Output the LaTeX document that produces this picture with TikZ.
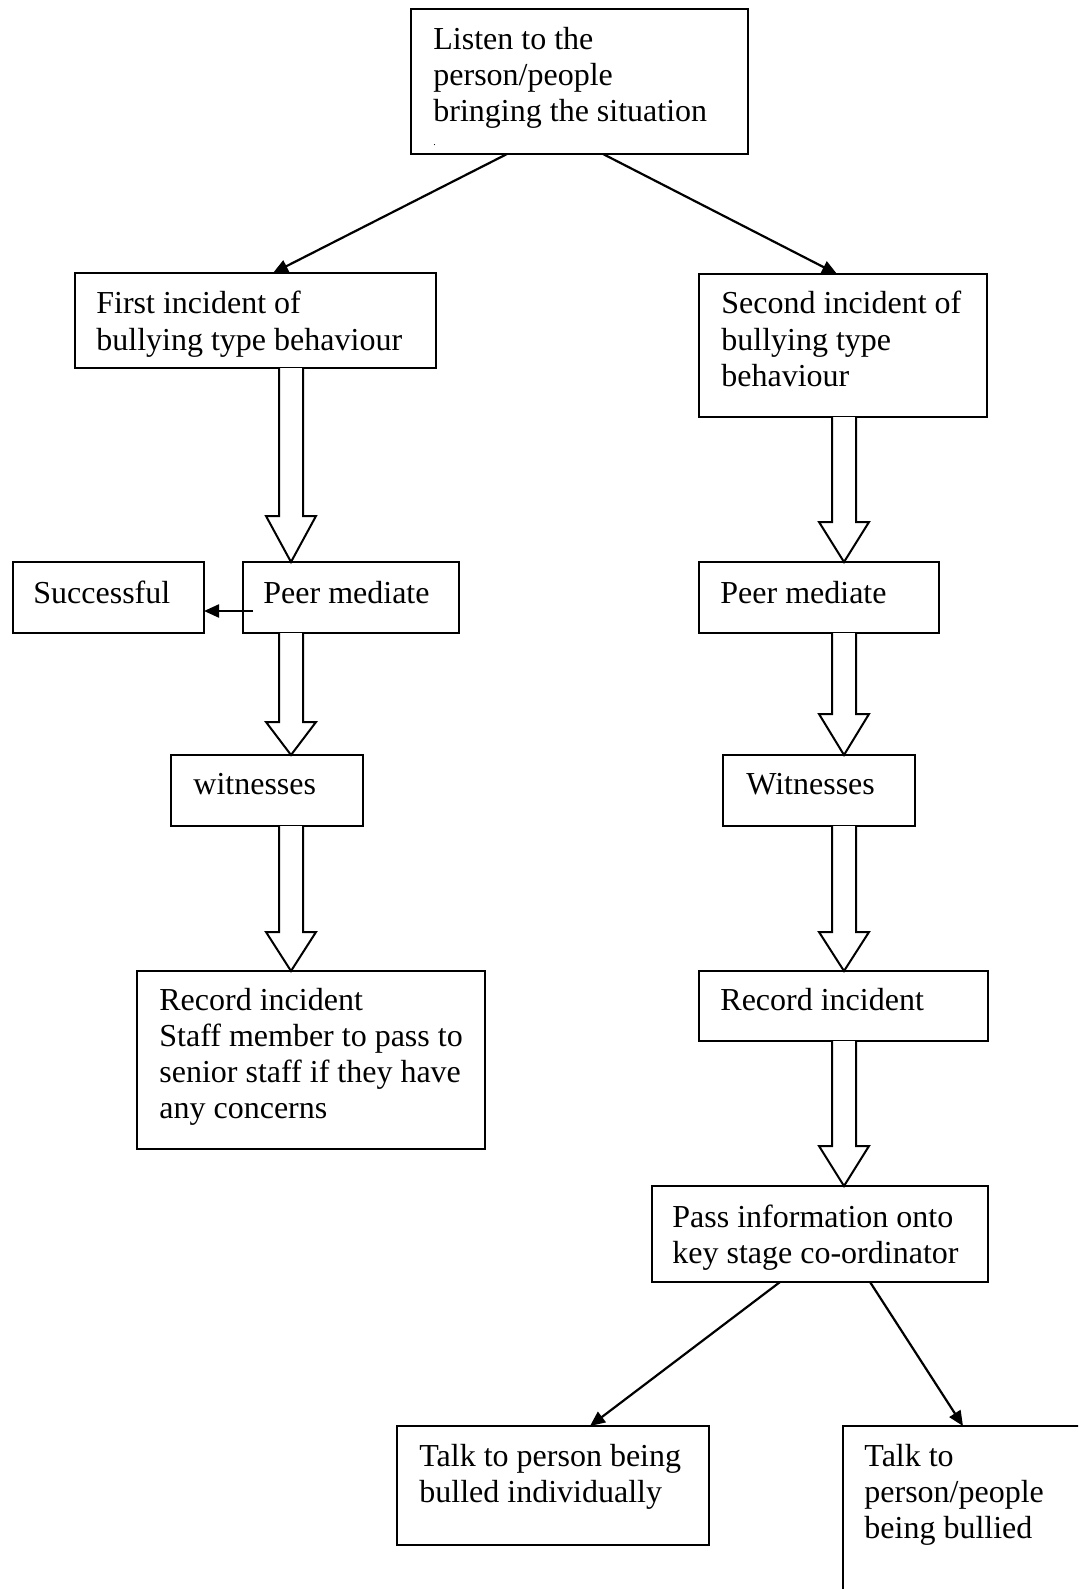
\documentclass[tikz,border=0pt]{standalone}
\usepackage{fontspec}
\setmainfont{Liberation Serif}
\usetikzlibrary{arrows.meta,fit,calc}
\tikzset{
  box/.style={draw, line width=1pt, inner sep=0pt, outer sep=0pt, rectangle},
  txt/.style={inner sep=0pt, anchor=base west, font=\fontsize{16pt}{18pt}\selectfont},
  conn/.style={line width=1.1pt, -{Triangle[length=7.5pt,width=6.5pt]}},
  blk/.style={line width=1pt, fill=white, line join=miter},
}
% #1 from node, #2 to node, #3 x of axis, #4 y where the head starts
\newcommand{\blockarr}[4]{%
  \draw[blk] ($(#1.south -| #3,0)+(-12,0)$) -- ($(#3,#4)+(-12,0)$) -- ($(#3,#4)+(-25,0)$)
    -- (#2.north -| #3,0) -- ($(#3,#4)+(25,0)$) -- ($(#3,#4)+(12,0)$) -- ($(#1.south -| #3,0)+(12,0)$);}
\begin{document}
\begin{tikzpicture}[x=0.5pt,y=-0.5pt]
\clip (0,0) rectangle (1078,1589);
\fill[white] (0,0) rectangle (1078,1589);

% boxes
\node[box, fit={(411,9) (748,154)}] (listen) {};
\node[box, fit={(75,273) (436,368)}] (first) {};
\node[box, fit={(699,274) (987,417)}] (second) {};
\node[box, fit={(13,562) (204,633)}] (succ) {};
\node[box, fit={(243,562) (459,633)}] (peerL) {};
\node[box, fit={(699,562) (939,633)}] (peerR) {};
\node[box, fit={(171,755) (363,826)}] (witL) {};
\node[box, fit={(723,755) (915,826)}] (witR) {};
\node[box, fit={(137,971) (485,1149)}] (recL) {};
\node[box, fit={(699,971) (988,1041)}] (recR) {};
\node[box, fit={(652,1186) (988,1282)}] (pass) {};
\node[box, fit={(397,1426) (709,1545)}] (talkL) {};
\node[box, fit={(843,1426) (1120,1640)}] (talkR) {};

% texts
\node[txt] (tlisten) at (433,50) {\parbox[t]{300pt}{Listen to the\\person/people\\bringing the situation}};
\node[inner sep=0pt, font=\fontsize{5pt}{6pt}\selectfont, anchor=base west] (tdot) at (433,146) {.};
\node[txt] (tfirst) at (96,314) {\parbox[t]{300pt}{First incident of\\bullying type behaviour}};
\node[txt] (tsecond) at (721,314) {\parbox[t]{300pt}{Second incident of\\bullying type\\behaviour}};
\node[txt] (tsucc) at (33,603) {Successful};
\node[txt] (tpeerL) at (263,603) {Peer mediate};
\node[txt] (tpeerR) at (720,603) {Peer mediate};
\node[txt] (twitL) at (193,794) {witnesses};
\node[txt] (twitR) at (746,794) {Witnesses};
\node[txt] (trecL) at (159,1010) {\parbox[t]{300pt}{Record incident\\Staff member to pass to\\senior staff if they have\\any concerns}};
\node[txt] (trecR) at (720,1010) {Record incident};
\node[txt] (tpass) at (672,1227) {\parbox[t]{300pt}{Pass information onto\\key stage co-ordinator}};
\node[txt] (ttalkL) at (419,1466) {\parbox[t]{300pt}{Talk to person being\\bulled individually}};
\node[txt] (ttalkR) at (864,1466) {\parbox[t]{300pt}{Talk to\\person/people\\being bullied}};

% block arrows
\blockarr{first}{peerL}{291}{516}
\blockarr{peerL}{witL}{291}{722}
\blockarr{witL}{recL}{291}{932}
\blockarr{second}{peerR}{844}{522}
\blockarr{peerR}{witR}{844}{714}
\blockarr{witR}{recR}{844}{932}
\blockarr{recR}{pass}{844}{1146}

% line connectors
\draw[conn] (listen.south -| 507,0) -- (first.north -| 273,0);
\draw[conn] (listen.south -| 603,0) -- (second.north -| 837,0);
\draw[conn] ($(peerL.west |- 0,611)+(10,0)$) -- (succ.east |- 0,611);
\draw[conn] (pass.south -| 780,0) -- (talkL.north -| 590,0);
\draw[conn] (pass.south -| 870,0) -- (talkR.north -| 963,0);
\end{tikzpicture}
\end{document}
